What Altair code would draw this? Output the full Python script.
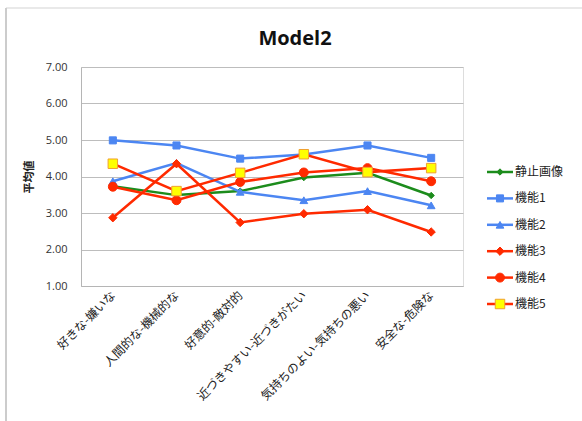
import altair as alt
import pandas as pd

# Semantic differential pairs (x axis)
categories = [
    "好きな-嫌いな",
    "人間的な-機械的な",
    "好意的-敵対的",
    "近づきやすい-近づきがたい",
    "気持ちのよい-気持ちの悪い",
    "安全な-危険な",
]
series_names = ["静止画像", "機能1", "機能2", "機能3", "機能4", "機能5"]

# Mean scores per condition
v_static = [3.73, 3.49, 3.60, 3.97, 4.10, 3.48]
v_f1 = [4.99, 4.85, 4.49, 4.60, 4.85, 4.51]
v_f2 = [3.87, 4.37, 3.58, 3.35, 3.60, 3.21]
v_f3 = [2.87, 4.35, 2.74, 2.98, 3.09, 2.48]
v_f4 = [3.72, 3.35, 3.85, 4.11, 4.23, 3.87]
v_f5 = [4.35, 3.60, 4.10, 4.61, 4.12, 4.23]
y_ticks = [1, 2, 3, 4, 5, 6, 7]

all_values = [v_static, v_f1, v_f2, v_f3, v_f4, v_f5]
rows = []
for name, vals in zip(series_names, all_values):
    for cat, v in zip(categories, vals):
        rows.append({"series": name, "pair": cat, "score": v})
df = pd.DataFrame(rows)
legend_df = pd.DataFrame({"series": series_names, "rank": list(range(len(series_names)))})

JP = "Noto Sans CJK JP"
GREEN, BLUE, RED = "#1C8C1C", "#4C86F2", "#FF2A00"

color_scale = alt.Scale(domain=series_names, range=[GREEN, BLUE, BLUE, RED, RED, RED])
fill_scale = alt.Scale(domain=series_names, range=[GREEN, BLUE, BLUE, RED, RED, "#FFFF00"])
stroke_scale = alt.Scale(domain=series_names, range=[GREEN, BLUE, BLUE, RED, RED, "#F0A030"])
shape_scale = alt.Scale(domain=series_names,
                        range=["diamond", "square", "triangle-up", "diamond", "circle", "square"])
size_scale = alt.Scale(domain=series_names, range=[40, 90, 90, 45, 150, 140])

x_enc = alt.X("pair:N", sort=categories, title=None,
              axis=alt.Axis(labelAngle=-45, labelAlign="right", labelBaseline="middle",
                            labelFontSize=12, labelFont=JP, labelColor="#222",
                            labelPadding=7, ticks=False, domainColor="#b5b5b5",
                            labelOverlap=False, labelLimit=300))
y_enc = alt.Y("score:Q", title="平均値",
              scale=alt.Scale(domain=[1, 7], nice=False, zero=False),
              axis=alt.Axis(values=y_ticks, format=".2f", ticks=False, labelPadding=14,
                            labelFontSize=11, labelFont="Open Sans", labelColor="#333",
                            titleFont=JP, titleFontSize=11, titleFontWeight="bold",
                            titleColor="#222", titlePadding=11,
                            gridColor="#bdbdbd", domainColor="#b5b5b5"))

def point_encodings():
    return dict(
        shape=alt.Shape("series:N", scale=shape_scale, legend=None),
        fill=alt.Fill("series:N", scale=fill_scale, legend=None),
        stroke=alt.Stroke("series:N", scale=stroke_scale, legend=None),
        size=alt.Size("series:N", scale=size_scale, legend=None),
    )

base = alt.Chart(df)
main_layers = []
for s in series_names:
    sub = base.transform_filter(alt.datum.series == s)
    main_layers.append(
        sub.mark_line(strokeWidth=2.5).encode(
            x=x_enc, y=y_enc,
            color=alt.Color("series:N", scale=color_scale, legend=None),
        )
    )
    main_layers.append(
        sub.mark_point(filled=True, opacity=1, strokeWidth=1).encode(
            x=x_enc, y=y_enc, **point_encodings()
        )
    )
main = alt.layer(*main_layers)

# Hand-built legend: line sample + marker + label for each series
leg_y = alt.Y("rank:Q", scale=alt.Scale(domain=[0, 5], range=[105, 237]), axis=None)
leg_base = alt.Chart(legend_df)
leg_rule = leg_base.mark_rule(strokeWidth=2.5).encode(
    x=alt.value(406), x2=alt.value(432), y=leg_y,
    color=alt.Color("series:N", scale=color_scale, legend=None),
)
leg_pts = leg_base.mark_point(filled=True, opacity=1, strokeWidth=1).encode(
    x=alt.value(419), y=leg_y, **point_encodings()
)
leg_txt = leg_base.mark_text(align="left", baseline="middle", fontSize=12, font=JP,
                             color="#222").encode(
    x=alt.value(434), y=leg_y, text="series:N"
)

# Chart-area border: top and left edges
one = pd.DataFrame({"k": [0]})
frame_top = alt.Chart(one).mark_rule(stroke="#d4d4d4", strokeWidth=1.2).encode(
    x=alt.value(-75), x2=alt.value(501), y=alt.value(-59)
)
frame_left = alt.Chart(one).mark_rule(stroke="#cccccc", strokeWidth=2).encode(
    x=alt.value(-75), y=alt.value(-59), y2=alt.value(354)
)

legend = alt.layer(frame_top, frame_left, leg_rule, leg_pts, leg_txt)

chart = alt.layer(main, legend).resolve_scale(y="independent").properties(
    width=382, height=219,
    title=alt.TitleParams("Model2", font="Open Sans", fontSize=20, fontWeight="bold",
                          color="#111", anchor="middle", frame="group", dx=23,
                          baseline="alphabetic", offset=-58),
    autosize=alt.AutoSizeParams(type="none"),
    padding={"left": 81, "top": 67, "right": 119, "bottom": 135},
).configure_view(stroke=None).configure(background="white")

chart.save("out.html", embed_options={"renderer": "svg", "actions": False})
